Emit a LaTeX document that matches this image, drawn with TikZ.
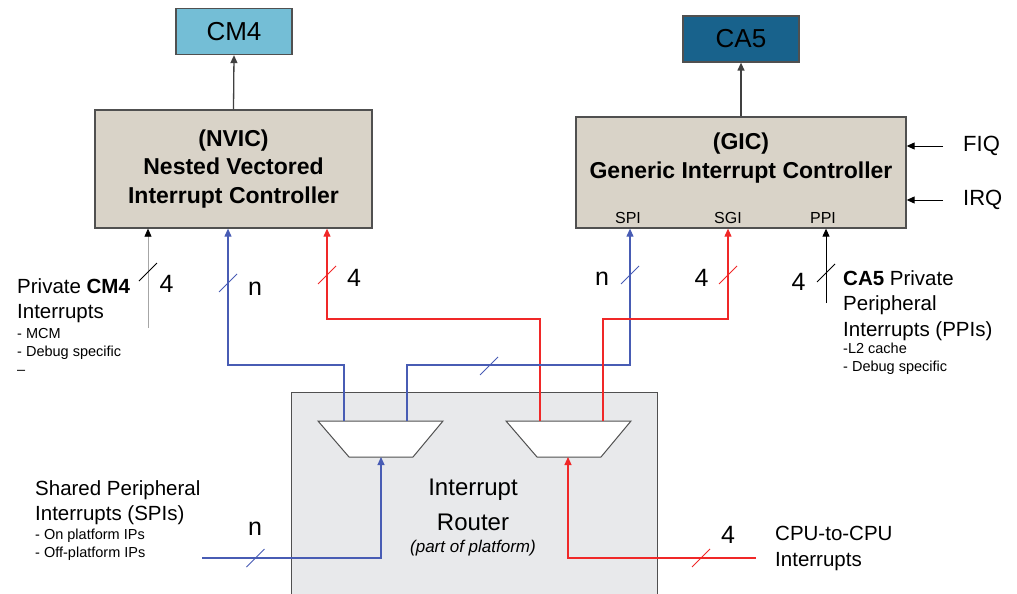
\documentclass[tikz,border=0pt]{standalone}
\usepackage{fontspec}
\setmainfont{Liberation Sans}
\usetikzlibrary{arrows.meta}

\definecolor{cmblue}{RGB}{116,190,214}
\definecolor{cablue}{RGB}{24,98,140}
\definecolor{ctrlbg}{RGB}{217,211,200}
\definecolor{routerbg}{RGB}{232,233,235}
\definecolor{busblue}{RGB}{72,92,180}
\definecolor{busred}{RGB}{240,40,40}
\definecolor{edgegray}{RGB}{80,80,80}

\newcommand{\fs}[2]{\fontsize{#1}{#2}\selectfont}
\newcommand{\busmark}[2][black]{\draw[#1,line width=0.9pt] (#2) +(-9,9) -- +(9,-9);}

\tikzset{
  core/.style={draw=edgegray, line width=1.3pt, minimum width=116pt, minimum height=46pt, font=\fs{26}{30}},
  ctrl/.style={draw=edgegray, line width=1.3pt, fill=ctrlbg, align=center},
  arr/.style={-{Triangle[length=8pt,width=7pt]}},
  bus/.style={line width=1.1pt},
  txtbig/.style={font=\fs{20.5}{25.5}, inner sep=0, anchor=north west, align=left},
  txtsmall/.style={font=\fs{14.5}{18}, inner sep=0, anchor=north west, align=left},
  num/.style={font=\fs{25}{30}, inner sep=0},
  port/.style={font=\fs{16}{19}, inner sep=0},
  mux/.style={draw=edgegray, line width=1pt, fill=white}
}

\begin{document}
\begin{tikzpicture}[x=1pt,y=-1pt]
  \useasboundingbox (0,0) rectangle (1017,594);

  % cores and controllers
  \node[core, fill=cmblue] (cm4) at (234,31.5) {CM4};
  \node[core, fill=cablue] (ca5) at (741,39) {CA5};
  \node[ctrl, minimum width=277pt, minimum height=118pt, font=\fs{23}{28.5}\bfseries] (nvic) at (233.5,169)
    {(NVIC)\\Nested Vectored\\Interrupt Controller};
  \node[ctrl, minimum width=330pt, minimum height=111pt] (gic) at (741,172.5) {};
  \node[font=\fs{23}{29}\bfseries, align=center, inner sep=0] (gictxt) at (741,158.5)
    {(GIC)\\Generic Interrupt Controller};
  \node[port] (spi) at (628,218) {SPI};
  \node[port] (sgi) at (728,218) {SGI};
  \node[port] (ppi) at (823,218) {PPI};

  \draw[arr, line width=1.3pt, black!75] (nvic.north) -- (cm4.south);
  \draw[arr, line width=1.3pt, black!75] (gic.north) -- (ca5.south);

  \node[font=\fs{22}{26}, anchor=west, inner sep=0] (fiq) at (963,146) {FIQ};
  \node[font=\fs{22}{26}, anchor=west, inner sep=0] (irq) at (963,200) {IRQ};
  \draw[arr, line width=1pt] ([xshift=-20pt]fiq.west) -- (gic.east |- fiq.west);
  \draw[arr, line width=1pt] ([xshift=-20pt]irq.west) -- (gic.east |- irq.west);

  % router
  \node[fill=routerbg, minimum width=365pt, minimum height=210pt, inner sep=0] (router) at (474.5,498) {};
  \draw[edgegray, line width=1.2pt] (router.south west) -- (router.north west) -- (router.north east) -- (router.south east);
  \node[font=\fs{24}{35}, align=center, inner sep=0] (routertxt) at (473,505) {Interrupt\\Router};
  \node[font=\fs{17}{20}\itshape, inner sep=0] (routernote) at (473,548) {(part of platform)};

  \coordinate (mxa) at (380.5,439);
  \coordinate (mxb) at (568.5,439);
  \draw[mux] (mxa) ++(-62.5,-18) -- ++(125,0) -- ++(-30,36) -- ++(-64,0) -- cycle;
  \draw[mux] (mxb) ++(-62.5,-18) -- ++(125,0) -- ++(-30,36) -- ++(-64,0) -- cycle;
  \coordinate (mxain) at (381,457);
  \coordinate (mxaouta) at (344,421);
  \coordinate (mxaoutb) at (407,421);
  \coordinate (mxbin) at (568,457);
  \coordinate (mxbouta) at (540,421);
  \coordinate (mxboutb) at (603,421);

  % buses
  \draw[bus, busblue, arr] (mxaouta) |- (228,365) -- (228,0 |- nvic.south);
  \draw[bus, busred, arr] (mxbouta) |- (327,319) -- (327,0 |- nvic.south);
  \draw[bus, busblue, arr] (mxaoutb) |- (630,365) -- (630,0 |- gic.south);
  \draw[bus, busred, arr] (mxboutb) |- (728,319) -- (728,0 |- gic.south);

  \coordinate (cmprivend) at (148,328);
  \coordinate (ppiend) at (826,303);
  \coordinate (spiend) at (202,558);
  \coordinate (cpuend) at (756,558);
  \draw[black!35, line width=0.8pt, -{Triangle[length=8pt,width=7pt,color=black]}] (cmprivend) -- (148,0 |- nvic.south);
  \draw[black, line width=1pt, arr] (ppiend) -- (826,0 |- gic.south);
  \draw[bus, busblue, arr] (spiend) -| (mxain);
  \draw[bus, busred, arr] (cpuend) -| (mxbin);

  \busmark{148,272}
  \busmark[busblue]{228,283}
  \busmark[busred]{327,275}
  \busmark[busblue]{489,366}
  \busmark[busblue]{630,275}
  \busmark[busred]{728,275}
  \busmark{826,273}
  \busmark[busblue]{255.5,558}
  \busmark[busred]{701,558}

  \node[num] (nvicw) at (166.5,284) {4};
  \node[num] (nvicn) at (255,289) {n};
  \node[num] (nvicr) at (354,278) {4};
  \node[num] (gicn) at (602,279) {n};
  \node[num] (gicr) at (701.5,278) {4};
  \node[num] (gicw) at (798.5,282) {4};
  \node[num] (spin) at (255,529) {n};
  \node[num] (cpur) at (728,535) {4};

  % side texts
  \node[txtbig] (cmpriv) at (17,278) {Private \textbf{CM4}\\Interrupts};
  \node[txtsmall] (cmprivlist) at (17,328) {- MCM\\- Debug specific\\--};
  \node[txtbig] (capriv) at (843,270) {\textbf{CA5} Private\\Peripheral\\Interrupts (PPIs)};
  \node[txtsmall] (caprivlist) at (843,343) {-L2 cache\\- Debug specific};
  \node[txtbig] (spitxt) at (35,480) {Shared Peripheral\\Interrupts (SPIs)};
  \node[txtsmall] (spilist) at (35,529) {- On platform IPs\\- Off-platform IPs};
  \node[txtbig] (cputxt) at (775,526) {CPU-to-CPU\\Interrupts};
\end{tikzpicture}
\end{document}
